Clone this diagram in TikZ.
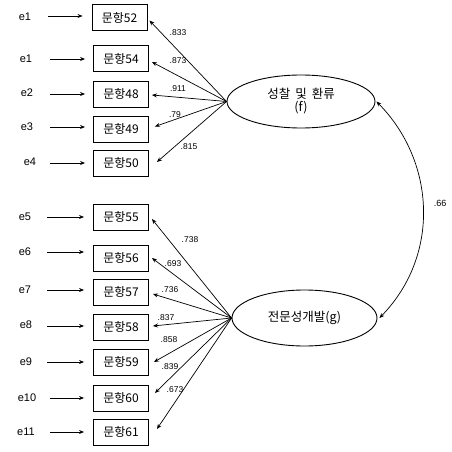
\documentclass[tikz,border=0pt]{standalone}
\usepackage{fontspec}
\setmainfont{Liberation Sans}
\newfontfamily\kr{Noto Sans CJK KR}
\usetikzlibrary{arrows.meta,shapes.geometric}
\begin{document}
\begin{tikzpicture}[x=1pt,y=-1pt,
  every node/.style={inner sep=0pt},
  itembox/.style={draw,line width=0.9pt,minimum width=55pt,minimum height=26pt,font=\kr\fontsize{12}{13}\selectfont},
  latent/.style={draw,ellipse,line width=0.9pt,font=\kr\fontsize{12.5}{14}\selectfont,align=center},
  errlab/.style={font=\fontsize{11}{12}\selectfont},
  loadlab/.style={font=\fontsize{8.5}{9}\selectfont},
  arr/.style={line width=0.8pt,-{Stealth[length=5pt,width=4pt]}},
  larr/.style={line width=0.7pt,-{Stealth[length=5pt,width=4pt]}}]
\useasboundingbox (0,0) rectangle (451,452);
% items
\node[itembox] (b52) at (119.5,17.5) {문항52};
\node[itembox] (b54) at (121,58.5) {문항54};
\node[itembox] (b48) at (121,94) {문항48};
\node[itembox] (b49) at (121,129) {문항49};
\node[itembox] (b50) at (121,163) {문항50};
\node[itembox] (b55) at (121,217) {문항55};
\node[itembox] (b56) at (121,258) {문항56};
\node[itembox] (b57) at (121,292) {문항57};
\node[itembox] (b58) at (121,327) {문항58};
\node[itembox] (b59) at (121,362) {문항59};
\node[itembox] (b60) at (121,398) {문항60};
\node[itembox] (b61) at (121,432) {문항61};
% latent
\node[latent,minimum width=148pt,minimum height=53pt] (f) at (301,101.5) {성찰\hspace{5pt}및\hspace{5pt}환류\\[-1pt](f)};
\node[latent,minimum width=145pt,minimum height=56pt] (g) at (304.5,318) {전문성개발(g)};
% errors
\node[errlab] (e52) at (25,17) {e1};
\node[errlab] (e54) at (26,59) {e1};
\node[errlab] (e48) at (27,93) {e2};
\node[errlab] (e49) at (27,127) {e3};
\node[errlab] (e50) at (30,162) {e4};
\node[errlab] (e55) at (25,217) {e5};
\node[errlab] (e56) at (25,252) {e6};
\node[errlab] (e57) at (25,290) {e7};
\node[errlab] (e58) at (26,325) {e8};
\node[errlab] (e59) at (26,362) {e9};
\node[errlab] (e60) at (27,398) {e10};
\node[errlab] (e61) at (26,432) {e11};
\coordinate (s52) at (48,16); \coordinate (s54) at (50,59);
\coordinate (s48) at (50,94); \coordinate (s49) at (50,127);
\coordinate (s50) at (50,163); \coordinate (s55) at (47,217);
\coordinate (s56) at (47,252); \coordinate (s57) at (47,290);
\coordinate (s58) at (47,326); \coordinate (s59) at (47,362);
\coordinate (s60) at (50,398); \coordinate (s61) at (50,432);
\draw[arr] (s52) -- ([shift={(-9,-1.5)}]b52.west);
\draw[arr] (s54) -- ([shift={(-8,0.5)}]b54.west);
\draw[arr] (s48) -- ([xshift=-8pt]b48.west);
\draw[arr] (s49) -- ([shift={(-8,-2)}]b49.west);
\draw[arr] (s50) -- ([xshift=-8pt]b50.west);
\draw[arr] (s55) -- ([xshift=-9pt]b55.west);
\draw[arr] (s56) -- ([shift={(-9,-6)}]b56.west);
\draw[arr] (s57) -- ([shift={(-9,-2)}]b57.west);
\draw[arr] (s58) -- ([shift={(-9,-1)}]b58.west);
\draw[arr] (s59) -- ([xshift=-9pt]b59.west);
\draw[arr] (s60) -- ([xshift=-9pt]b60.west);
\draw[arr] (s61) -- ([xshift=-9pt]b61.west);
% loadings f
\draw[larr] (f.west) -- ([shift={(2,3)}]b52.east);
\draw[larr] (f.west) -- ([shift={(3,3.5)}]b54.east);
\draw[larr] (f.west) -- ([shift={(3,1)}]b48.east);
\draw[larr] (f.west) -- ([shift={(6,-2.5)}]b49.east);
\draw[larr] (f.west) -- ([shift={(8,-1)}]b50.east);
% loadings g
\draw[larr] (g.west) -- ([shift={(3,2)}]b55.east);
\draw[larr] (g.west) -- ([shift={(3,0)}]b56.east);
\draw[larr] (g.west) -- ([shift={(4,2)}]b57.east);
\draw[larr] (g.west) -- ([shift={(4,-1)}]b58.east);
\draw[larr] (g.west) -- ([shift={(5,0)}]b59.east);
\draw[larr] (g.west) -- ([shift={(6,-5)}]b60.east);
\draw[larr] (g.west) -- ([shift={(8,-3)}]b61.east);
% loading labels
\node[loadlab] (l52) at (178,33) {.833};
\node[loadlab] (l54) at (178,61) {.873};
\node[loadlab] (l48) at (178,89) {.911};
\node[loadlab] (l49) at (175,115) {.79};
\node[loadlab] (l50) at (189,147) {.815};
\node[loadlab] (l55) at (190,240) {.738};
\node[loadlab] (l56) at (173,264) {.693};
\node[loadlab] (l57) at (170,290) {.736};
\node[loadlab] (l58) at (166,318) {.837};
\node[loadlab] (l59) at (169,340) {.858};
\node[loadlab] (l60) at (170,367) {.839};
\node[loadlab] (l61) at (175,390) {.673};
% correlation
\draw[line width=0.7pt,{Stealth[length=5pt,width=4pt]}-{Stealth[length=5pt,width=4pt]}]
  ([xshift=1pt]f.east) .. controls (436,162) and (440,256) .. ([xshift=2pt]g.east);
\node[font=\fontsize{9}{10}\selectfont] (r) at (440,203) {.66};
\end{tikzpicture}
\end{document}
